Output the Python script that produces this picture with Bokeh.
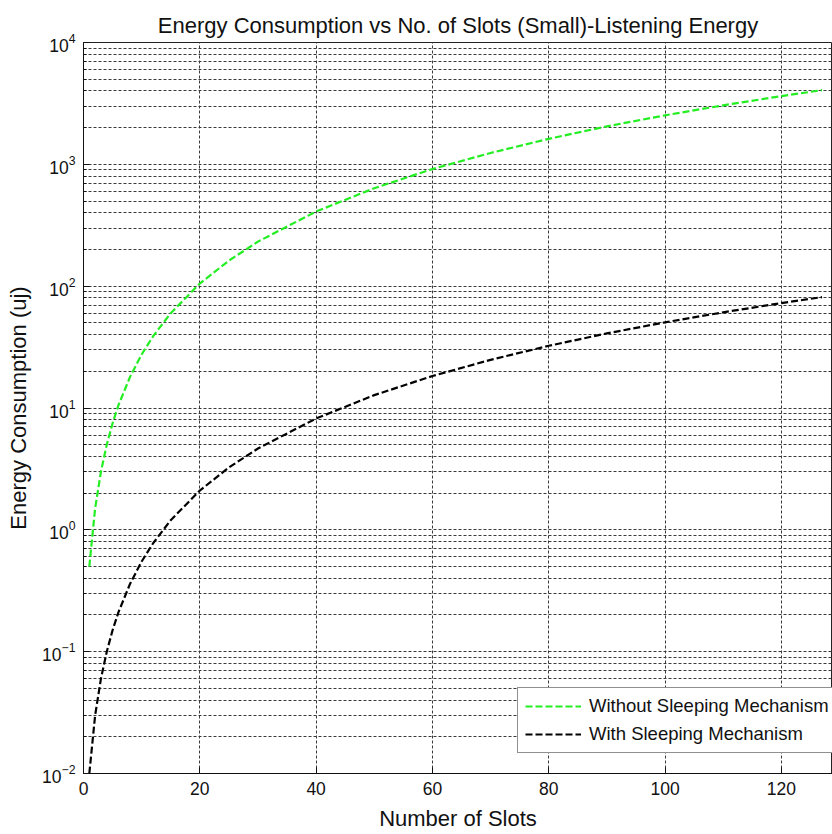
from bokeh.plotting import figure
from bokeh.models import FixedTicker, LogTickFormatter, Legend, LegendItem
from bokeh.embed import file_html
from bokeh.resources import INLINE

# Data
slots = [1, 2, 3, 4, 5, 6, 8, 10, 12, 15, 20, 25, 30, 40, 50, 60, 70, 80, 90, 100, 110, 120, 127]
without_sleep = [0.5, 1.5, 3, 5, 7.5, 10.5, 18, 27.5, 39, 60, 105, 162, 232, 410, 637, 915,
                 1240, 1620, 2050, 2525, 3050, 3630, 4064]
with_sleep = [0.01, 0.03, 0.06, 0.1, 0.15, 0.21, 0.36, 0.55, 0.78, 1.2, 2.1, 3.25, 4.65, 8.2,
              12.75, 18.3, 24.85, 32.4, 40.95, 50.5, 61, 72.6, 81.3]
x_ticks = [0, 20, 40, 60, 80, 100, 120]
y_major = [1e-2, 1e-1, 1e0, 1e1, 1e2, 1e3, 1e4]
y_minor = [m * d for d in [1e-2, 1e-1, 1e0, 1e1, 1e2, 1e3] for m in range(2, 10)]

FONT = "Liberation Sans"
GRID = "#3a3a3a"

p = figure(width=832, height=834, y_axis_type="log",
           x_range=(0, 128.8), y_range=(1e-2, 1e4),
           output_backend="svg", toolbar_location=None,
           min_border_left=83, min_border_right=0, min_border_top=42, min_border_bottom=61,
           title="Energy Consumption vs No. of Slots (Small)-Listening Energy")

p.background_fill_color = "white"
p.border_fill_color = "white"
p.outline_line_color = "#222222"
p.outline_line_width = 1

p.title.text_font = FONT
p.title.text_font_size = "22px"
p.title.text_font_style = "normal"
p.title.align = "center"
p.title.text_line_height = 0.8
p.title.text_color = "#111111"
p.title.offset = 0
p.title.standoff = 10

p.xaxis.ticker = FixedTicker(ticks=x_ticks)
p.yaxis.ticker = FixedTicker(ticks=y_major, minor_ticks=y_minor)
p.yaxis.formatter = LogTickFormatter()

for ax in [p.xaxis[0], p.yaxis[0]]:
    ax.axis_line_color = "#111111"
    ax.major_tick_in = 6
    ax.major_tick_out = 0
    ax.minor_tick_in = 3
    ax.minor_tick_out = 0
    ax.major_tick_line_color = "#111111"
    ax.minor_tick_line_color = "#111111"
    ax.major_label_text_font = FONT
    ax.major_label_text_font_size = "17.5px"
    ax.major_label_text_color = "#111111"
    ax.axis_label_text_font = FONT
    ax.axis_label_text_font_size = "22px"
    ax.axis_label_text_font_style = "normal"
    ax.axis_label_text_color = "#111111"

p.xaxis.axis_label = "Number of Slots"
p.yaxis.axis_label = "Energy Consumption (uj)"
p.xaxis.major_label_standoff = 8
p.xaxis.axis_label_standoff = 8
p.yaxis.major_label_standoff = 8
p.yaxis.axis_label_standoff = 8

p.xgrid.grid_line_color = GRID
p.xgrid.grid_line_dash = "3 2"
p.xgrid.grid_line_width = 1
p.ygrid.grid_line_color = GRID
p.ygrid.grid_line_dash = "3 2"
p.ygrid.grid_line_width = 1
p.ygrid.minor_grid_line_color = GRID
p.ygrid.minor_grid_line_dash = "3 2"
p.ygrid.minor_grid_line_width = 1

r1 = p.line(slots, without_sleep, line_color="#22ee22", line_width=2.2, line_dash="7 3")
r2 = p.line(slots, with_sleep, line_color="#000000", line_width=2.2, line_dash="7 3")

legend = Legend(items=[LegendItem(label="Without Sleeping Mechanism", renderers=[r1]),
                       LegendItem(label="With Sleeping Mechanism", renderers=[r2])],
                location=(434, 20))
legend.label_text_font = FONT
legend.label_text_font_size = "18.5px"
legend.label_text_color = "#111111"
legend.glyph_width = 56
legend.glyph_height = 20
legend.label_height = 20
legend.label_standoff = 8
legend.spacing = 6
legend.padding = 7
legend.margin = 0
legend.border_line_color = "#222222"
legend.border_line_width = 1
legend.background_fill_color = "white"
legend.background_fill_alpha = 1.0
p.add_layout(legend, "center")

open("out.html", "w").write(file_html(p, INLINE))
